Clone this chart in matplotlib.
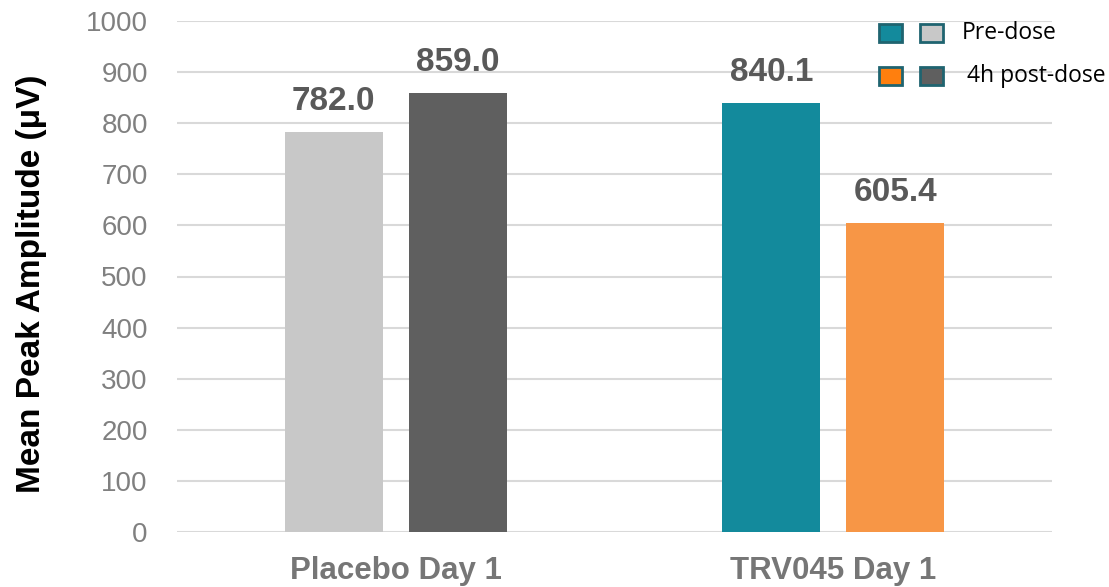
import matplotlib
matplotlib.use("Agg")
import matplotlib.pyplot as plt
from matplotlib.patches import Rectangle
import numpy as np

categories = ["Placebo Day 1", "TRV045 Day 1"]
pre_dose = [782.0, 840.1]
post_dose = [859.0, 605.4]
pre_colors = ["#c8c8c8", "#138a9c"]
post_colors = ["#5f5f5f", "#f79646"]
yticks = list(range(0, 1001, 100))

plt.rcParams['font.family'] = ['Liberation Sans', 'DejaVu Sans']

fig = plt.figure(figsize=(11.09, 5.87), dpi=100)
ax = fig.add_axes([177 / 1109, 1 - 532 / 587, (1052 - 177) / 1109, (532 - 21) / 587])

x = np.arange(len(categories))
w = 0.224
off = 0.1417
b1 = ax.bar(x - off, pre_dose, w, color=pre_colors, zorder=3)
b2 = ax.bar(x + off, post_dose, w, color=post_colors, zorder=3)

for bars, vals in ((b1, pre_dose), (b2, post_dose)):
    for r, v in zip(bars, vals):
        ax.annotate(f"{v:.1f}", (r.get_x() + r.get_width() / 2, v),
                    xytext=(0, 22), textcoords="offset points",
                    ha="center", va="center", fontsize=24, fontweight="bold",
                    color="#595959")

ax.set_xlim(-0.5, 1.5)
ax.set_ylim(0, 1000)
ax.set_yticks(yticks)
ax.set_xticks(x)
ax.set_xticklabels(categories, fontsize=22.5, fontweight="bold", color="#767676")
ax.tick_params(axis="y", length=0, pad=21, labelsize=20, labelcolor="#808080")
ax.tick_params(axis="x", length=0, pad=17)
ax.yaxis.grid(True, color="#d9d9d9", linewidth=1.5, zorder=0)
for s in ax.spines.values():
    s.set_visible(False)
ax.set_ylabel("Mean Peak Amplitude (μV)", fontsize=24, fontweight="bold",
              color="black")
ax.yaxis.set_label_coords((47 - 177) / 875, (532 - 284) / 511)

# legend drawn by hand (two swatches per row)
rows = [(("#138a9c", "#c8c8c8"), "Pre-dose", 33, 962),
        (("#ff7f0e", "#5f5f5f"), "4h post-dose", 76, 967)]
for (c1, c2), label, yc, tx in rows:
    for xs, c in ((879, c1), (920, c2)):
        fig.patches.append(Rectangle((xs / 1109, 1 - (yc + 9) / 587), 23 / 1109, 18 / 587,
                                     transform=fig.transFigure, facecolor=c,
                                     edgecolor="#1f6470", linewidth=2, zorder=5))
    fig.text(tx / 1109, 1 - yc / 587, label, fontsize=16.5, va="center", ha="left",
             family=["Open Sans", "DejaVu Sans"], color="black")

fig.savefig("out.png", dpi=100)
